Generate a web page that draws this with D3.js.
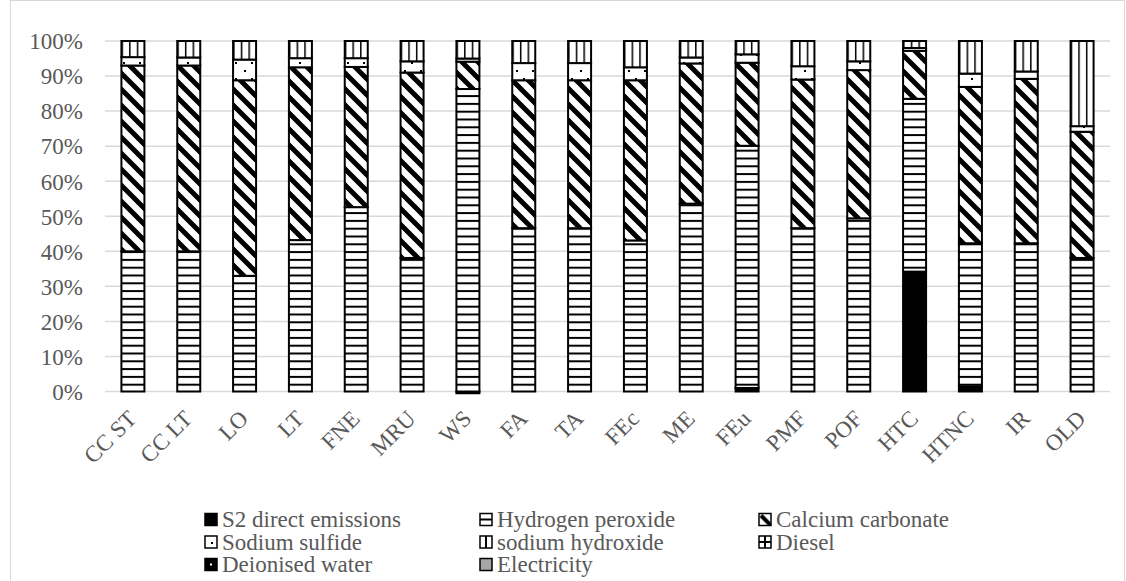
<!DOCTYPE html>
<html>
<head>
<meta charset="utf-8">
<script src="https://cdn.jsdelivr.net/npm/d3@7"></script>
<style>
  html, body { margin: 0; padding: 0; background: #fff; }
  svg { display: block; }
</style>
</head>
<body>
<svg id="chart" width="1126" height="581"></svg>
<script>
// ---------- DATA ----------
const categories = ["CC ST","CC LT","LO","LT","FNE","MRU","WS","FA","TA","FEc","ME","FEu","PMF","POF","HTC","HTNC","IR","OLD"];
const seriesNames = ["S2 direct emissions","Hydrogen peroxide","Calcium carbonate","Sodium sulfide","sodium hydroxide","Diesel","Deionised water","Electricity"];
// values in percent of each bar
const s2Direct        = [0,0,0,0,0,0,-0.5,0,0,0,0,1.0,0,0,34.2,1.5,0,0];
const hydrogenPeroxide= [40.0,40.0,33.0,43.2,52.6,38.1,86.3,46.6,46.6,43.1,53.6,69.1,46.6,49.4,49.3,40.8,42.3,38.1];
const calciumCarbonate= [53.0,53.0,55.8,49.3,40.0,52.9,7.8,42.2,42.2,45.7,40.0,23.7,42.4,42.3,13.7,44.6,46.9,36.0];
const sodiumSulfide   = [2.4,2.3,5.9,2.6,2.5,3.2,0.9,4.9,4.9,3.7,1.7,2.4,3.8,2.5,0.8,3.8,2.1,1.6];
const sodiumHydroxide = [4.6,4.7,5.3,4.9,4.9,5.8,5.0,6.3,6.3,7.5,4.7,3.8,7.2,5.8,2.0,9.3,8.7,24.3];
const diesel          = [0,0,0,0,0,0,0,0,0,0,0,0,0,0,0,0,0,0];
const deionisedWater  = [0,0,0,0,0,0,0,0,0,0,0,0,0,0,0,0,0,0];
const electricity     = [0,0,0,0,0,0,0,0,0,0,0,0,0,0,0,0,0,0];
const yTicks = [0,0.1,0.2,0.3,0.4,0.5,0.6,0.7,0.8,0.9,1.0];

const seriesValues = [s2Direct,hydrogenPeroxide,calciumCarbonate,sodiumSulfide,sodiumHydroxide,diesel,deionisedWater,electricity];
const rows = categories.map((c,i) => {
  const r = {cat: c};
  seriesNames.forEach((s,j) => r[s] = seriesValues[j][i] / 100);
  return r;
});

// ---------- LAYOUT ----------
const FONT = "'Liberation Serif'";
const FS = 23;
const TXT = "#595959";
const svg = d3.select("#chart");
const plot = {left: 105, right: 1110, top: 41, bottom: 391.5};

svg.append("rect").attr("x",10.5).attr("y",0.5).attr("width",1114).attr("height",620)
   .attr("fill","#fff").attr("stroke","#d9d9d9").attr("stroke-width",1);

const x = d3.scaleBand().domain(categories).range([plot.left, plot.right]).paddingInner(0.588).paddingOuter(0.294);
const y = d3.scaleLinear().domain([0,1]).range([plot.bottom, plot.top]);

// ---------- PATTERNS ----------
const defs = svg.append("defs");
let p = defs.append("pattern").attr("id","pH2O2").attr("patternUnits","userSpaceOnUse")
  .attr("width",8).attr("height",7.8).attr("y", plot.bottom);
p.append("rect").attr("width",8).attr("height",7.8).attr("fill","#fff");
p.append("rect").attr("y",0).attr("width",8).attr("height",2).attr("fill","#000");

p = defs.append("pattern").attr("id","pCaCO3").attr("patternUnits","userSpaceOnUse")
  .attr("width",16).attr("height",16);
p.append("rect").attr("width",16).attr("height",16).attr("fill","#fff");
p.append("path").attr("d","M-4,-4L20,20M-4,12L4,20M12,-4L20,4").attr("stroke","#000").attr("stroke-width",5);

p = defs.append("pattern").attr("id","pNa2S").attr("patternUnits","userSpaceOnUse")
  .attr("width",16).attr("height",16).attr("x",2).attr("y",4);
p.append("rect").attr("width",16).attr("height",16).attr("fill","#fff");
p.append("rect").attr("x",2).attr("y",2).attr("width",2).attr("height",2).attr("fill","#000");
p.append("rect").attr("x",9).attr("y",10).attr("width",2).attr("height",2).attr("fill","#000");

p = defs.append("pattern").attr("id","pNaOH").attr("patternUnits","objectBoundingBox")
  .attr("width",1/3).attr("height",1);
p.append("rect").attr("width",40).attr("height",400).attr("fill","#fff");
p.append("rect").attr("x",0).attr("width",1.5).attr("height",400).attr("fill","#000");

p = defs.append("pattern").attr("id","pDiesel").attr("patternUnits","userSpaceOnUse")
  .attr("width",8).attr("height",8);
p.append("rect").attr("width",8).attr("height",8).attr("fill","#fff");
p.append("rect").attr("width",8).attr("height",1.5).attr("fill","#000");
p.append("rect").attr("width",1.5).attr("height",8).attr("fill","#000");

p = defs.append("pattern").attr("id","pDI").attr("patternUnits","userSpaceOnUse")
  .attr("width",8).attr("height",8);
p.append("rect").attr("width",8).attr("height",8).attr("fill","#000");
p.append("rect").attr("x",4).attr("y",4).attr("width",1.5).attr("height",1.5).attr("fill","#fff");

const fills = {
  "S2 direct emissions": "#000",
  "Hydrogen peroxide": "url(#pH2O2)",
  "Calcium carbonate": "url(#pCaCO3)",
  "Sodium sulfide": "url(#pNa2S)",
  "sodium hydroxide": "url(#pNaOH)",
  "Diesel": "url(#pDiesel)",
  "Deionised water": "url(#pDI)",
  "Electricity": "#a6a6a6"
};

// ---------- GRID ----------
svg.append("g").selectAll("line").data(yTicks).join("line")
  .attr("x1",plot.left).attr("x2",plot.right)
  .attr("y1",d=>y(d)).attr("y2",d=>y(d))
  .attr("stroke","#d9d9d9").attr("stroke-width",1.5);

// ---------- AXES ----------
const yAxis = svg.append("g").attr("transform",`translate(${plot.left - 22},0)`)
  .call(d3.axisLeft(y).tickValues(yTicks).tickFormat(d3.format(".0%")).tickSize(0).tickPadding(0));
yAxis.attr("font-family",null).attr("font-size",null);
yAxis.select(".domain").remove();
yAxis.selectAll("text").style("font-size",FS+"px").style("font-family",FONT).attr("fill",TXT).attr("dy","0.34em");

const xAxis = svg.append("g").attr("transform",`translate(0,${plot.bottom})`)
  .call(d3.axisBottom(x).tickSize(0).tickPadding(0));
xAxis.attr("font-family",null).attr("font-size",null);
xAxis.select(".domain").remove();
xAxis.selectAll("text")
  .style("font-size",FS+"px").style("font-family",FONT).attr("fill",TXT)
  .attr("text-anchor","end").attr("y",0).attr("dy",0)
  .attr("transform","translate(5,28.5) rotate(-45)");

// ---------- BARS ----------
const stack = d3.stack().keys(seriesNames).offset(d3.stackOffsetDiverging);
const stacked = stack(rows);

const gBars = svg.append("g");
stacked.forEach(layer => {
  gBars.append("g").selectAll("rect")
    .data(layer.filter(d => Math.abs(d[1]-d[0]) > 1e-9))
    .join("rect")
    .attr("x", d => x(d.data.cat))
    .attr("width", x.bandwidth())
    .attr("y", d => y(Math.max(d[0],d[1])))
    .attr("height", d => Math.abs(y(d[0]) - y(d[1])))
    .attr("fill", fills[layer.key])
    .attr("stroke","#000").attr("stroke-width",2);
});

// ---------- LEGEND ----------
const legFill = {
  "S2 direct emissions": "#000",
  "Hydrogen peroxide": "url(#lH2O2)",
  "Calcium carbonate": "url(#lCaCO3)",
  "Sodium sulfide": "url(#lNa2S)",
  "sodium hydroxide": "url(#lNaOH)",
  "Diesel": "url(#lDiesel)",
  "Deionised water": "url(#lDI)",
  "Electricity": "#a6a6a6"
};
function lp(id, draw, bg){
  const q = defs.append("pattern").attr("id",id).attr("patternUnits","objectBoundingBox")
    .attr("width",1).attr("height",1);
  q.append("rect").attr("width",12).attr("height",12).attr("fill",bg||"#fff");
  draw(q);
}
lp("lH2O2", q=>q.append("rect").attr("x",0).attr("y",5).attr("width",12).attr("height",2).attr("fill","#000"));
lp("lCaCO3", q=>q.append("path").attr("d","M2,2L12,12").attr("stroke","#000").attr("stroke-width",4));
lp("lNa2S", q=>q.append("rect").attr("x",6).attr("y",6).attr("width",2).attr("height",2).attr("fill","#000"));
lp("lNaOH", q=>q.append("rect").attr("x",5).attr("y",0).attr("width",2).attr("height",12).attr("fill","#000"));
lp("lDiesel", q=>{q.append("rect").attr("x",5).attr("y",0).attr("width",2).attr("height",12).attr("fill","#000");
                  q.append("rect").attr("x",0).attr("y",5).attr("width",12).attr("height",2).attr("fill","#000");});
lp("lDI", q=>q.append("rect").attr("x",5).attr("y",5).attr("width",2).attr("height",2).attr("fill","#fff"), "#000");

const legColX = [205, 480, 759];
const legRowY = [527, 549.5, 572];
const leg = svg.append("g");
seriesNames.forEach((s,i) => {
  const cx = legColX[i % 3], by = legRowY[Math.floor(i / 3)];
  leg.append("rect").attr("x",cx).attr("y",by-13.5).attr("width",12).attr("height",12)
    .attr("fill",legFill[s]).attr("stroke","#000").attr("stroke-width",1.5);
  leg.append("text").attr("x",cx+17).attr("y",by).style("font-size",FS+"px").style("font-family",FONT)
    .attr("fill",TXT).text(s);
});
</script>
</body>
</html>
